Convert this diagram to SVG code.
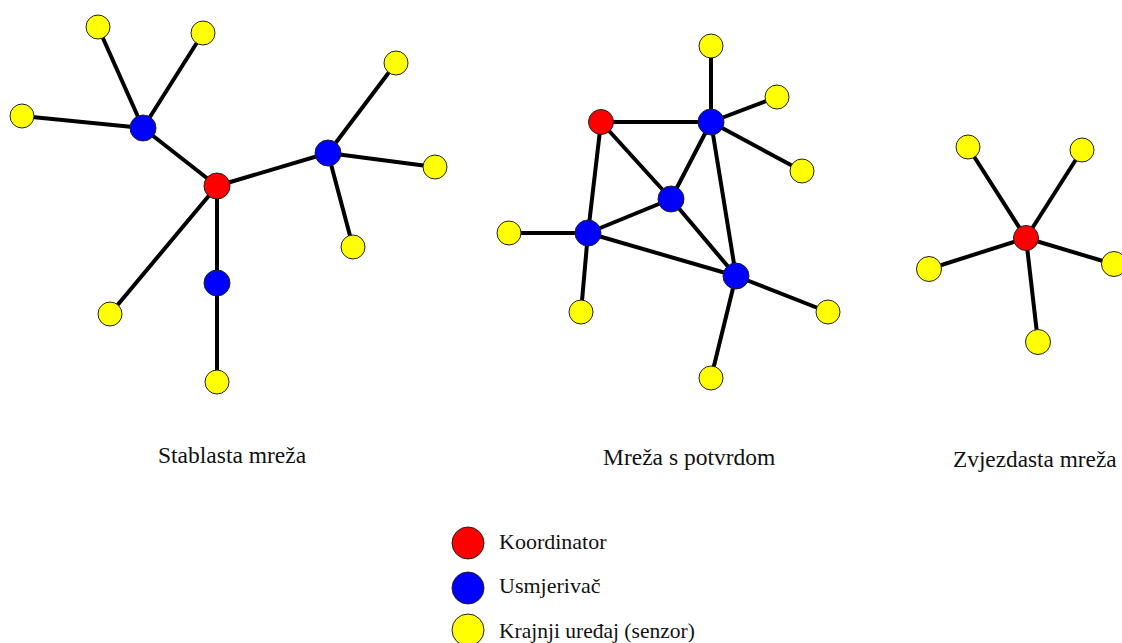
<svg xmlns="http://www.w3.org/2000/svg" width="1122" height="643" viewBox="0 0 1122 643">
<style>
.e{stroke:#000;stroke-width:4;stroke-linecap:round;fill:none}
.r{fill:#ff0000;stroke:#222;stroke-width:1}
.b{fill:#0000ff;stroke:#222;stroke-width:1}
.y{fill:#ffff00;stroke:#222;stroke-width:1}
.t{font-family:"Liberation Serif","Times New Roman",serif;fill:#111}
</style>
<rect width="1122" height="643" fill="#fff"/>
<g id="connectors">
<!-- tree -->
<line class="e" x1="217" y1="186" x2="143" y2="128"/>
<line class="e" x1="217" y1="186" x2="328" y2="153"/>
<line class="e" x1="217" y1="186" x2="217" y2="283"/>
<line class="e" x1="217" y1="186" x2="110" y2="314"/>
<line class="e" x1="143" y1="128" x2="98" y2="27"/>
<line class="e" x1="143" y1="128" x2="203" y2="33"/>
<line class="e" x1="143" y1="128" x2="22" y2="116"/>
<line class="e" x1="328" y1="153" x2="396" y2="63"/>
<line class="e" x1="328" y1="153" x2="435" y2="167"/>
<line class="e" x1="328" y1="153" x2="353" y2="247"/>
<line class="e" x1="217" y1="283" x2="217" y2="382"/>
<!-- mesh -->
<line class="e" x1="601" y1="122" x2="711" y2="122"/>
<line class="e" x1="601" y1="122" x2="588" y2="233"/>
<line class="e" x1="601" y1="122" x2="671" y2="199"/>
<line class="e" x1="711" y1="122" x2="671" y2="199"/>
<line class="e" x1="711" y1="122" x2="736" y2="276"/>
<line class="e" x1="671" y1="199" x2="588" y2="233"/>
<line class="e" x1="671" y1="199" x2="736" y2="276"/>
<line class="e" x1="588" y1="233" x2="736" y2="276"/>
<line class="e" x1="711" y1="122" x2="711" y2="46"/>
<line class="e" x1="711" y1="122" x2="777" y2="97"/>
<line class="e" x1="711" y1="122" x2="802" y2="171"/>
<line class="e" x1="588" y1="233" x2="509" y2="233"/>
<line class="e" x1="588" y1="233" x2="581" y2="312"/>
<line class="e" x1="736" y1="276" x2="828" y2="312"/>
<line class="e" x1="736" y1="276" x2="711" y2="378"/>
<!-- star -->
<line class="e" x1="1026" y1="238" x2="968" y2="147"/>
<line class="e" x1="1026" y1="238" x2="1082" y2="150"/>
<line class="e" x1="1026" y1="238" x2="929" y2="269"/>
<line class="e" x1="1026" y1="238" x2="1113" y2="264"/>
<line class="e" x1="1026" y1="238" x2="1038" y2="342"/>
</g>
<g id="tree-coord"><circle class="r" cx="217" cy="186" r="13"/></g>
<g id="tree-r1"><circle class="b" cx="143" cy="128" r="13"/></g>
<g id="tree-r2"><circle class="b" cx="328" cy="153" r="13"/></g>
<g id="tree-r3"><circle class="b" cx="217" cy="283" r="13"/></g>
<g id="tree-s1"><circle class="y" cx="98" cy="27" r="12"/></g>
<g id="tree-s2"><circle class="y" cx="203" cy="33" r="12"/></g>
<g id="tree-s3"><circle class="y" cx="22" cy="116" r="12"/></g>
<g id="tree-s4"><circle class="y" cx="396" cy="63" r="12"/></g>
<g id="tree-s5"><circle class="y" cx="435" cy="167" r="12"/></g>
<g id="tree-s6"><circle class="y" cx="353" cy="247" r="12"/></g>
<g id="tree-s7"><circle class="y" cx="110" cy="314" r="12"/></g>
<g id="tree-s8"><circle class="y" cx="217" cy="382" r="12"/></g>
<g id="mesh-coord"><circle class="r" cx="601" cy="122" r="12.5"/></g>
<g id="mesh-r1"><circle class="b" cx="711" cy="122" r="13"/></g>
<g id="mesh-r2"><circle class="b" cx="671" cy="199" r="13"/></g>
<g id="mesh-r3"><circle class="b" cx="588" cy="233" r="13"/></g>
<g id="mesh-r4"><circle class="b" cx="736" cy="276" r="13"/></g>
<g id="mesh-s1"><circle class="y" cx="711" cy="46" r="12"/></g>
<g id="mesh-s2"><circle class="y" cx="777" cy="97" r="12"/></g>
<g id="mesh-s3"><circle class="y" cx="802" cy="171" r="12"/></g>
<g id="mesh-s4"><circle class="y" cx="509" cy="233" r="12"/></g>
<g id="mesh-s5"><circle class="y" cx="581" cy="312" r="12"/></g>
<g id="mesh-s6"><circle class="y" cx="828" cy="312" r="12"/></g>
<g id="mesh-s7"><circle class="y" cx="711" cy="378" r="12"/></g>
<g id="star-coord"><circle class="r" cx="1026" cy="238" r="12.5"/></g>
<g id="star-s1"><circle class="y" cx="968" cy="147" r="12"/></g>
<g id="star-s2"><circle class="y" cx="1082" cy="150" r="12"/></g>
<g id="star-s3"><circle class="y" cx="929" cy="269" r="12.5"/></g>
<g id="star-s4"><circle class="y" cx="1114" cy="264" r="12.5"/></g>
<g id="star-s5"><circle class="y" cx="1038" cy="342" r="12.5"/></g>
<g id="labels">
<text class="t" x="158" y="463" font-size="23.5">Stablasta mreža</text>
<text class="t" x="603" y="465" font-size="23.5">Mreža s potvrdom</text>
<text class="t" x="953" y="467" font-size="23.3">Zvjezdasta mreža</text>
</g>
<g id="legend">
<circle class="r" cx="468" cy="543" r="16"/>
<circle class="b" cx="468" cy="588" r="16"/>
<circle class="y" cx="468" cy="630" r="16"/>
<text class="t" x="499" y="549" font-size="22">Koordinator</text>
<text class="t" x="499" y="593" font-size="22">Usmjerivač</text>
<text class="t" x="499" y="638" font-size="21.5">Krajnji uređaj (senzor)</text>
</g>
</svg>
